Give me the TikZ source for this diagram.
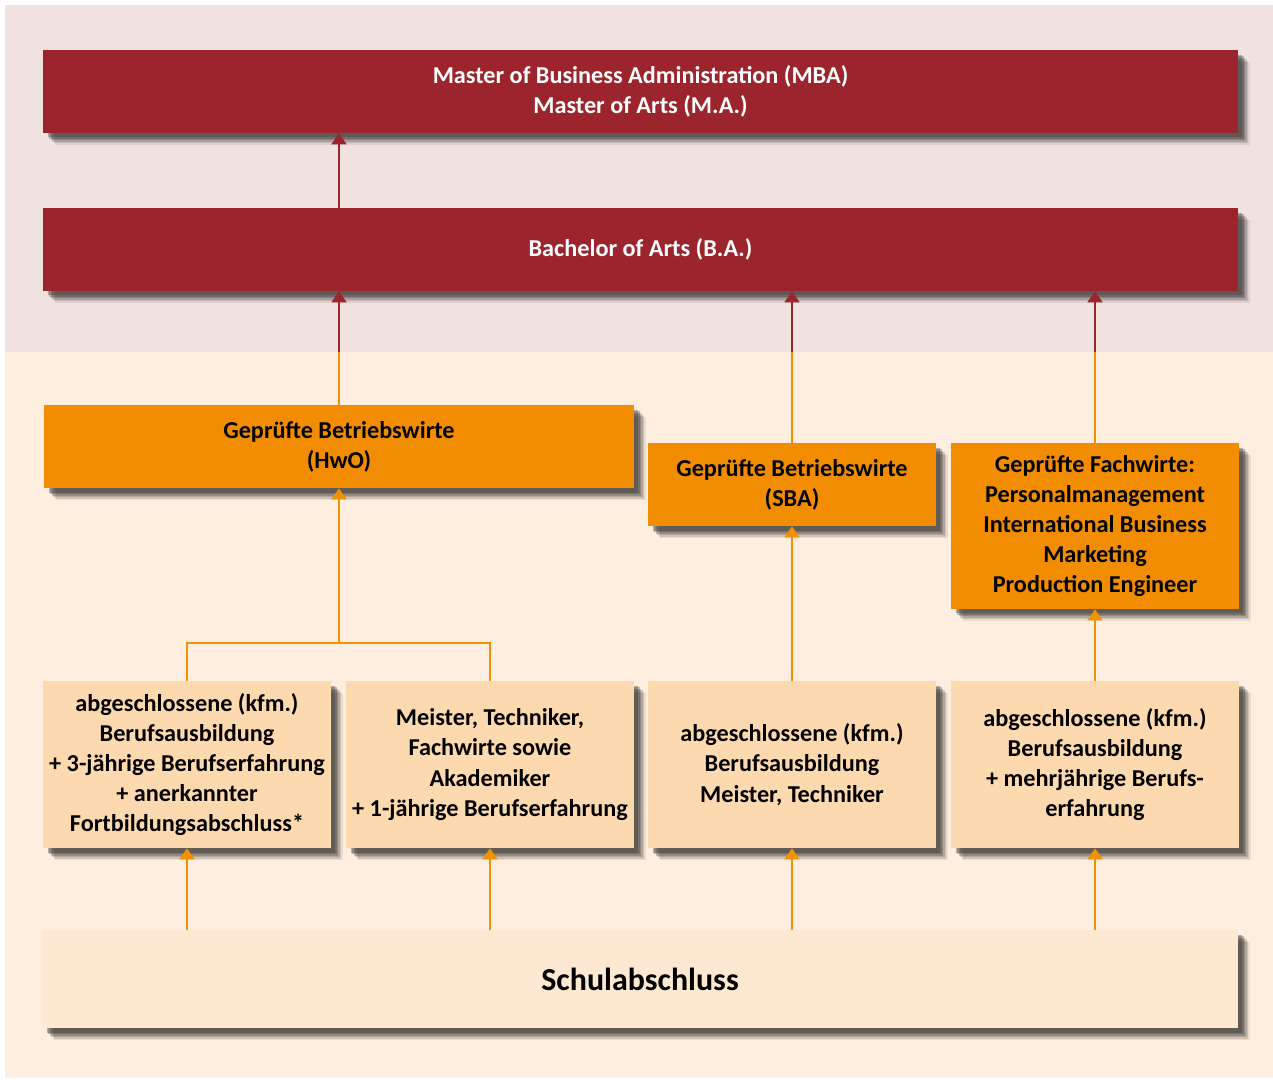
\documentclass[tikz,border=0pt]{standalone}
\usepackage{fontspec}
\setmainfont{Carlito}
\usetikzlibrary{arrows.meta}
\usetikzlibrary{shadows}
\usetikzlibrary{calc}
\definecolor{mbared}{HTML}{9C242D}
\definecolor{hwoorange}{HTML}{F28C00}
\definecolor{lineorange}{HTML}{F39200}
\definecolor{lightbox}{HTML}{FCD9AE}
\definecolor{schulbox}{HTML}{FDE8D1}
\definecolor{topbg}{HTML}{F0E2DF}
\definecolor{botbg}{HTML}{FDEEDF}
\definecolor{shadowgray}{HTML}{3A3634}

\begin{document}
\begin{tikzpicture}[x=0.02cm,y=-0.02cm,
    every node/.style={font=\bfseries\fontsize{13.8}{17.2}\selectfont,align=center,inner sep=0pt},
    shadowed/.style={
        general shadow={shadow xshift=0.24cm,shadow yshift=-0.24cm,fill=shadowgray,opacity=0.10},
        general shadow={shadow xshift=0.21cm,shadow yshift=-0.21cm,fill=shadowgray,opacity=0.15},
        general shadow={shadow xshift=0.18cm,shadow yshift=-0.18cm,fill=shadowgray,opacity=0.20},
        general shadow={shadow xshift=0.15cm,shadow yshift=-0.15cm,fill=shadowgray,opacity=0.25},
        general shadow={shadow xshift=0.12cm,shadow yshift=-0.12cm,fill=shadowgray,opacity=0.30},
        general shadow={shadow xshift=0.09cm,shadow yshift=-0.09cm,fill=shadowgray,opacity=0.35}},
    redbox/.style={shadowed,fill=mbared,text=white,minimum width=23.9cm,minimum height=1.66cm},
    orangebox/.style={shadowed,fill=hwoorange,minimum width=5.76cm},
    lightbox/.style={shadowed,fill=lightbox,minimum width=5.76cm,minimum height=3.34cm},
    redarrow/.style={mbared,line width=1.1pt,-{Triangle[width=0.3cm,length=0.22cm]}},
    orangearrow/.style={lineorange,line width=1.1pt,-{Triangle[width=0.3cm,length=0.22cm]}},
    orangeline/.style={lineorange,line width=1.1pt}]
    \useasboundingbox (0,0) rectangle (1273,1079);
    \fill[topbg] (5,5) rectangle (1273,352);
    \fill[botbg] (5,352) rectangle (1273,1078);

    % degrees
    \node[redbox] (mba) at (640.5,91.5) {Master of Business Administration (MBA)\\Master of Arts (M.A.)};
    \node[redbox] (ba) at (640.5,249.5) {Bachelor of Arts (B.A.)};

    % Betriebswirte / Fachwirte
    \node[orangebox,minimum width=11.8cm,minimum height=1.66cm] (hwo) at (339,446.5) {Geprüfte Betriebswirte\\(HwO)};
    \node[orangebox,minimum height=1.66cm] (sba) at (792,484.5) {Geprüfte Betriebswirte\\(SBA)};
    \node[orangebox,minimum height=3.32cm] (fw) at (1095,526) {Geprüfte Fachwirte:\\Personalmanagement\\International Business\\Marketing\\Production Engineer};

    % Voraussetzungen
    \node[lightbox] (b1) at (187,764.5) {abgeschlossene (kfm.)\\Berufsausbildung\\+ 3-jährige Berufserfahrung\\+ anerkannter\\Fortbildungsabschluss*};
    \node[lightbox] (b2) at (490,764.5) {Meister, Techniker,\\Fachwirte sowie\\Akademiker\\+ 1-jährige Berufserfahrung};
    \node[lightbox] (b3) at (792,764.5) {abgeschlossene (kfm.)\\Berufsausbildung\\Meister, Techniker};
    \node[lightbox] (b4) at (1095,764.5) {abgeschlossene (kfm.)\\Berufsausbildung\\+ mehrjährige Berufs-\\erfahrung};

    \node[shadowed,fill=schulbox,minimum width=23.92cm,minimum height=1.96cm,font=\bfseries\fontsize{18.2}{21}\selectfont] (schul) at (640,979) {Schulabschluss};

    % connectors
    \draw[redarrow] (ba.north -| hwo.north) -- (mba.south -| hwo.north);

    \coordinate (split1) at (hwo.north |- 0,352);
    \coordinate (split2) at (sba.north |- 0,352);
    \coordinate (split3) at (fw.north |- 0,352);
    \draw[orangeline] (hwo.north) -- (split1);
    \draw[orangeline] (sba.north) -- (split2);
    \draw[orangeline] (fw.north) -- (split3);
    \draw[redarrow] (split1) -- (ba.south -| split1);
    \draw[redarrow] (split2) -- (ba.south -| split2);
    \draw[redarrow] (split3) -- (ba.south -| split3);

    \coordinate (join) at (hwo.south |- 0,643);
    \draw[orangeline] (b1.north) -- (b1.north |- join) -- (b2.north |- join) -- (b2.north);
    \draw[orangearrow] (join) -- (hwo.south);
    \draw[orangearrow] (b3.north) -- (sba.south);
    \draw[orangearrow] (b4.north) -- (fw.south);

    \foreach \b in {b1,b2,b3,b4}
        \draw[orangearrow] (schul.north -| \b.south) -- (\b.south);
\end{tikzpicture}
\end{document}
